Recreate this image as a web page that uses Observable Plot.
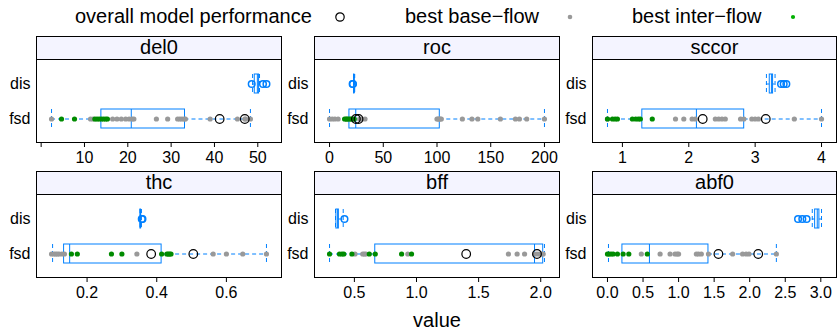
<!DOCTYPE html>
<html><head><meta charset="utf-8">
<script src="https://cdn.jsdelivr.net/npm/d3@7"></script>
<script src="https://cdn.jsdelivr.net/npm/@observablehq/plot@0.6"></script>
<style>
body{margin:0;background:#fff;font-family:"Liberation Sans",Arial,sans-serif;}
#root{position:relative;width:837px;height:331px;overflow:hidden;background:#fff;}
.strip{position:absolute;box-sizing:border-box;border:1px solid #000;background:#f4f4ff;text-align:center;font-size:20px;line-height:21px;color:#000;}
.lab{position:absolute;font-size:20px;line-height:20px;white-space:nowrap;color:#000;}
.panel{position:absolute;}
</style></head><body><div id="root"></div>
<script>
// ---- categories ----
const panelNames = ["del0", "roc", "sccor", "thc", "bff", "abf0"];
const groupNames = ["dis", "fsd"];
const legendLabels = ["overall model performance", "best base\u2212flow", "best inter\u2212flow"];
const xLabel = "value";

// ---- box statistics: [lower whisker, lower hinge, median, upper hinge, upper whisker] ----
const del0Fsd = [2.4, 13.9, 20.8, 33.2, 48.3];
const del0Dis = [48.8, 49.3, 49.9, 50.3, 50.4];
const del0DisOut = [48.6, 51.2, 52.0];
const del0Base = [2.4, 11.4, 12.0, 16.5, 17.5, 18.5, 19.5, 20.3, 21.0, 21.4, 26.6, 29.2, 31.5, 32.0, 32.5, 33.0, 33.3, 39.0, 45.3, 47.0, 47.2, 48.3];
const del0Inter = [4.7, 7.7, 12.4, 12.9, 13.4, 13.9, 14.4, 14.9, 15.3];
const del0Overall = [41.2, 47.0];
const del0Ticks = [0, 10, 20, 30, 40, 50];

const rocFsd = [0, 18.5, 24.4, 102.6, 200];
const rocDis = [22.5, 22.8, 23.0, 23.2, 23.4];
const rocDisOut = [21.5, 21.8];
const rocBase = [0, 2.5, 5, 8, 16, 28, 30, 33, 100, 101, 102, 103, 104, 123.6, 132.5, 138, 159, 173, 176.7, 183.5, 200];
const rocInter = [14, 15.5, 17, 18.5, 20, 21.5, 23];
const rocOverall = [24.5, 27];
const rocTicks = [0, 50, 100, 150, 200];

const sccorFsd = [0.775, 1.3, 2.115, 2.835, 4.0];
const sccorDis = [3.17, 3.22, 3.245, 3.27, 3.3];
const sccorDisOut = [3.39, 3.43, 3.47];
const sccorBase = [0.775, 1.8, 1.925, 2.05, 2.1, 2.4, 2.45, 2.5, 2.55, 2.78, 2.83, 2.95, 3.0, 3.05, 3.59, 4.0];
const sccorInter = [0.775, 0.85, 0.89, 0.925, 1.15, 1.2, 1.24, 1.27, 1.45];
const sccorOverall = [2.21, 3.16];
const sccorTicks = [1, 2, 3, 4];

const thcFsd = [0.101, 0.134, 0.15, 0.414, 0.715];
const thcDis = [0.352, 0.353, 0.354, 0.355, 0.356];
const thcDisOut = [0.357, 0.359];
const thcBase = [0.098, 0.105, 0.11, 0.115, 0.12, 0.128, 0.135, 0.343, 0.562, 0.6, 0.647, 0.715];
const thcInter = [0.155, 0.172, 0.27, 0.3, 0.414, 0.429, 0.433, 0.437, 0.441];
const thcOverall = [0.384, 0.505];
const thcTicks = [0.2, 0.4, 0.6];

const bffFsd = [0.30, 0.668, 1.95, 2.02, 2.03];
const bffDis = [0.348, 0.355, 0.365, 0.375, 0.41];
const bffDisOut = [0.42];
const bffBase = [0.505, 0.567, 0.58, 0.593, 0.93, 1.74, 1.81, 1.87, 1.95, 1.97, 1.99, 2.0, 2.01, 2.02];
const bffInter = [0.3, 0.38, 0.40, 0.415, 0.48, 0.62, 0.668, 0.88, 0.96];
const bffOverall = [1.4, 1.97];
const bffTicks = [0.5, 1.0, 1.5, 2.0];

const abf0Fsd = [0.014, 0.21, 0.59, 1.42, 2.375];
const abf0Dis = [2.88, 2.92, 2.95, 2.98, 3.01];
const abf0DisOut = [2.68, 2.74, 2.8];
const abf0Base = [0.476, 0.74, 0.88, 0.95, 0.98, 1.0, 1.25, 1.28, 1.32, 1.42, 1.76, 1.9, 1.95, 1.99, 2.375];
const abf0Inter = [0.0, 0.02, 0.05, 0.08, 0.14, 0.22, 0.3, 0.56];
const abf0Overall = [1.56, 2.12];
const abf0Ticks = [0.0, 0.5, 1.0, 1.5, 2.0, 2.5, 3.0];

// ---- styling ----
const FONT = "'Liberation Sans', Arial, Helvetica, sans-serif";
const BLUE = "#0080ff";
const GRAY = "#999999";
const GREEN = "#008b00";
const DASH = "4,3";

const fmtInt = d => d === 0 ? "" : String(d);
const fmtInt0 = d => String(d);
const fmt1 = d3.format(".1f");

const panelConfigs = [
  {fsd: del0Fsd, dis: del0Dis, disOut: del0DisOut, base: del0Base, inter: del0Inter, overall: del0Overall, ticks: del0Ticks, fmt: fmtInt},
  {fsd: rocFsd, dis: rocDis, disOut: rocDisOut, base: rocBase, inter: rocInter, overall: rocOverall, ticks: rocTicks, fmt: fmtInt0},
  {fsd: sccorFsd, dis: sccorDis, disOut: sccorDisOut, base: sccorBase, inter: sccorInter, overall: sccorOverall, ticks: sccorTicks, fmt: fmtInt0},
  {fsd: thcFsd, dis: thcDis, disOut: thcDisOut, base: thcBase, inter: thcInter, overall: thcOverall, ticks: thcTicks, fmt: fmt1},
  {fsd: bffFsd, dis: bffDis, disOut: bffDisOut, base: bffBase, inter: bffInter, overall: bffOverall, ticks: bffTicks, fmt: fmt1},
  {fsd: abf0Fsd, dis: abf0Dis, disOut: abf0DisOut, base: abf0Base, inter: abf0Inter, overall: abf0Overall, ticks: abf0Ticks, fmt: fmt1}
];

const root = document.getElementById("root");
const colLefts = [36, 314, 592];
const colWidths = [245, 245, 244];
const rowTops = [{strip: 36, panel: 59}, {strip: 171, panel: 194}];
const H = 83;

function makePanel(name, p, left, W, rowTop) {
  const rows = [
    {g: "dis", lo: p.dis[0], q1: p.dis[1], med: p.dis[2], q3: p.dis[3], hi: p.dis[4]},
    {g: "fsd", lo: p.fsd[0], q1: p.fsd[1], med: p.fsd[2], q3: p.fsd[3], hi: p.fsd[4]}
  ];
  const all = [...p.dis, ...p.fsd, ...p.disOut, ...p.base, ...p.inter, ...p.overall];
  const [mn, mx] = d3.extent(all);
  const pad = (mx - mn) * 0.07;
  const mL = 40, mR = 2, mT = 1, mB = 34;
  const svg = Plot.plot({
    width: mL + W + mR, height: mT + H + mB,
    marginLeft: mL, marginRight: mR, marginTop: mT, marginBottom: mB,
    style: {fontFamily: FONT, fontSize: "16px", background: "transparent", color: "black", overflow: "visible"},
    x: {domain: [mn - pad, mx + pad], ticks: p.ticks, tickFormat: p.fmt, tickSize: 5, tickPadding: 4, label: null},
    y: {type: "band", domain: groupNames, paddingInner: 0, paddingOuter: 0.153, tickSize: 0, tickPadding: 6, label: null},
    marks: [
      Plot.ruleY(rows, {y: "g", x1: "lo", x2: "q1", stroke: BLUE, strokeDasharray: DASH}),
      Plot.ruleY(rows, {y: "g", x1: "q3", x2: "hi", stroke: BLUE, strokeDasharray: DASH}),
      Plot.tickX(rows, {x: "lo", y: "g", insetTop: 8, insetBottom: 8, stroke: BLUE, strokeDasharray: DASH}),
      Plot.tickX(rows, {x: "hi", y: "g", insetTop: 8, insetBottom: 8, stroke: BLUE, strokeDasharray: DASH}),
      Plot.barX(rows, {x1: "q1", x2: "q3", y: "g", insetTop: 8, insetBottom: 8, fill: "none", stroke: BLUE}),
      Plot.tickX(rows, {x: "med", y: "g", insetTop: 8, insetBottom: 8, stroke: BLUE}),
      Plot.dot(p.disOut, {x: d => d, y: () => "dis", r: 3.3, stroke: BLUE, strokeWidth: 1.5, fill: "none"}),
      Plot.dot(p.base, {x: d => d, y: () => "fsd", r: 2.6, fill: GRAY, stroke: "none"}),
      Plot.dot(p.inter, {x: d => d, y: () => "fsd", r: 2.6, fill: GREEN, stroke: "none"}),
      Plot.dot(p.overall, {x: d => d, y: () => "fsd", r: 4.3, stroke: "black", strokeWidth: 1.2, fill: "none"}),
      Plot.frame({stroke: "black"})
    ]
  });
  svg.classList.add("panel");
  svg.style.left = (left - mL) + "px";
  svg.style.top = (rowTop.panel - mT) + "px";
  root.appendChild(svg);

  const strip = document.createElement("div");
  strip.className = "strip";
  strip.style.left = left + "px";
  strip.style.top = rowTop.strip + "px";
  strip.style.width = (W + 1) + "px";
  strip.style.height = (rowTop.panel - rowTop.strip + 1) + "px";
  strip.textContent = name;
  root.appendChild(strip);
}

panelNames.forEach((name, i) => {
  const col = i % 3, row = Math.floor(i / 3);
  makePanel(name, panelConfigs[i], colLefts[col], colWidths[col], rowTops[row]);
});

// ---- legend ----
function addLabel(text, x, y, center, lh) {
  const s = document.createElement("span");
  s.className = "lab";
  s.textContent = text;
  s.style.left = x + "px";
  s.style.top = y + "px";
  if (lh) s.style.lineHeight = lh + "px";
  root.appendChild(s);
  if (center) {
    const w = s.getBoundingClientRect().width;
    s.style.left = (x - w / 2) + "px";
  }
}
addLabel(legendLabels[0], 75, 6);
addLabel(legendLabels[1], 405, 6);
addLabel(legendLabels[2], 632, 6);
const ns = "http://www.w3.org/2000/svg";
const lg = document.createElementNS(ns, "svg");
lg.setAttribute("width", 837); lg.setAttribute("height", 34);
lg.style.position = "absolute"; lg.style.left = "0px"; lg.style.top = "0px";
[[340, 4.2, "none", "black"], [570, 2.3, GRAY, "none"], [793, 2.1, "#00b000", "none"]].forEach(([cx, r, f, s]) => {
  const c = document.createElementNS(ns, "circle");
  c.setAttribute("cx", cx); c.setAttribute("cy", 17); c.setAttribute("r", r);
  c.setAttribute("fill", f); c.setAttribute("stroke", s); c.setAttribute("stroke-width", 1.2);
  lg.appendChild(c);
});
root.appendChild(lg);
addLabel(xLabel, 437, 312, true, 16);
</script>
</body></html>
